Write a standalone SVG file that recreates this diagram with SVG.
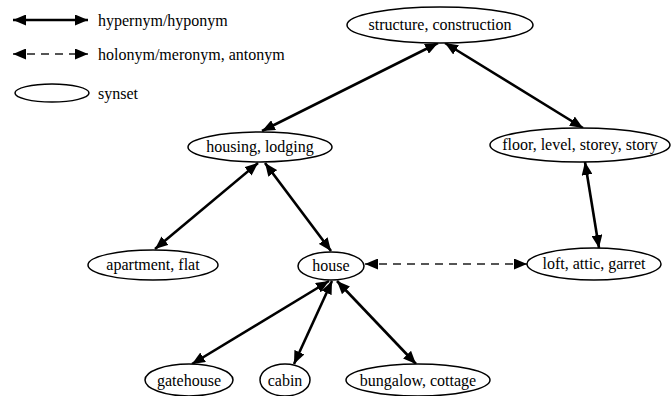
<svg xmlns="http://www.w3.org/2000/svg" width="671" height="396" viewBox="0 0 671 396">
<style>
.n ellipse{fill:#fff;stroke:#000;stroke-width:1.5}
text{font-family:"Liberation Serif","Times New Roman",serif;font-size:16px;fill:#000}
.n text{text-anchor:middle}
.e line{stroke:#000;stroke-width:2.6;marker-start:url(#ah);marker-end:url(#ah)}
.e line.d{stroke:#555;stroke-width:2.2;stroke-dasharray:8 6}
</style>
<defs>
<marker id="ah" viewBox="0 0 13 11" refX="13" refY="5.5" markerWidth="13" markerHeight="11" markerUnits="userSpaceOnUse" orient="auto-start-reverse">
<path d="M0,0 L13,5.5 L0,11 Z" fill="#000"/>
</marker>
</defs>
<rect width="671" height="396" fill="#fff"/>
<g id="legend">
<g class="e"><line x1="13" y1="20" x2="88" y2="20"/><line class="d" x1="13" y1="54" x2="88" y2="54"/></g>
<text x="98" y="26">hypernym/hyponym</text>
<text x="98" y="60">holonym/meronym, antonym</text>
<g class="n"><ellipse cx="52" cy="93" rx="37" ry="9"/></g>
<text x="98" y="99">synset</text>
</g>
<g id="edges" class="e">
<line x1="262" y1="131" x2="438" y2="43"/>
<line x1="445" y1="43" x2="583" y2="128"/>
<line x1="258" y1="163" x2="155" y2="249"/>
<line x1="265" y1="163" x2="331" y2="251"/>
<line x1="585" y1="162" x2="599" y2="248"/>
<line class="d" x1="365" y1="264" x2="527" y2="264"/>
<line x1="329" y1="281" x2="192" y2="364"/>
<line x1="332" y1="281" x2="294" y2="364"/>
<line x1="337" y1="281" x2="416" y2="364"/>
</g>
<g id="structure" class="n"><ellipse cx="440" cy="25" rx="93" ry="18"/><text x="440" y="30">structure, construction</text></g>
<g id="housing" class="n"><ellipse cx="260" cy="147" rx="72" ry="15"/><text x="260" y="152">housing, lodging</text></g>
<g id="floor" class="n"><ellipse cx="580" cy="145" rx="90" ry="17"/><text x="580" y="150">floor, level, storey, story</text></g>
<g id="apartment" class="n"><ellipse cx="153" cy="265" rx="65" ry="15"/><text x="153" y="270">apartment, flat</text></g>
<g id="house" class="n"><ellipse cx="331" cy="266" rx="33" ry="14"/><text x="331" y="271">house</text></g>
<g id="loft" class="n"><ellipse cx="594" cy="264" rx="67" ry="16"/><text x="594" y="269">loft, attic, garret</text></g>
<g id="gatehouse" class="n"><ellipse cx="189" cy="380" rx="44" ry="16"/><text x="189" y="386">gatehouse</text></g>
<g id="cabin" class="n"><ellipse cx="285" cy="380" rx="25" ry="16"/><text x="285" y="386">cabin</text></g>
<g id="bungalow" class="n"><ellipse cx="418" cy="380" rx="72" ry="16"/><text x="418" y="386">bungalow, cottage</text></g>
</svg>
